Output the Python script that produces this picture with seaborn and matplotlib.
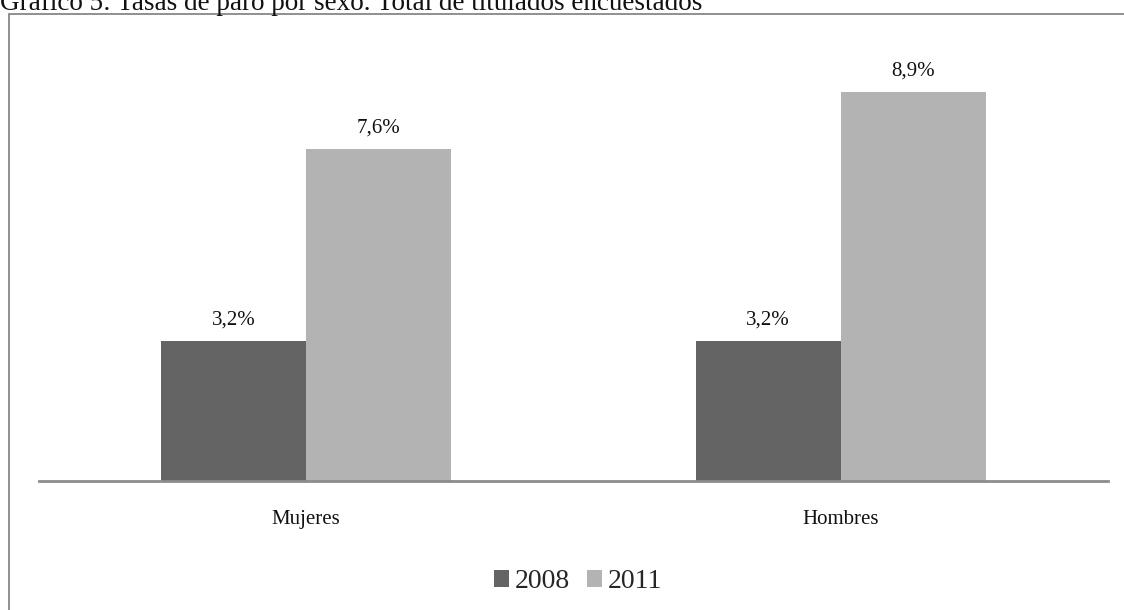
import matplotlib
matplotlib.use("Agg")
import matplotlib.pyplot as plt
from matplotlib.patches import Rectangle
import pandas as pd
import seaborn as sns

# Unemployment rates by sex, surveys of 2008 and 2011
categories = ["Mujeres", "Hombres"]
years = ["2008", "2011"]
rates_2008 = [3.2, 3.2]
rates_2011 = [7.6, 8.9]
title = "Gráfico 5: Tasas de paro por sexo. Total de titulados encuestados"

df = pd.DataFrame({
    "sexo": categories * 2,
    "año": [years[0]] * len(categories) + [years[1]] * len(categories),
    "tasa": rates_2008 + rates_2011,
})

sns.set_style("white")
plt.rcParams["font.family"] = ["Liberation Serif", "DejaVu Serif"]

W, H = 1124, 610
fig = plt.figure(figsize=(W / 100, H / 100), dpi=100)
ax = fig.add_axes([39 / W, (H - 481) / H, (1108 - 39) / W, (481 - 15) / H])

dark, light = "#646464", "#b3b3b3"
sns.barplot(data=df, x="sexo", y="tasa", hue="año", order=categories,
            hue_order=years, palette=[dark, light], saturation=1,
            width=0.543, gap=0, ax=ax, linewidth=0)

ax.set_xlim(-0.5, 1.5)
ax.set_ylim(0, 466 / 43.7)

for container in ax.containers:
    ax.bar_label(container,
                 labels=[f"{v:.1f}%".replace(".", ",") for v in container.datavalues],
                 padding=8.5, fontsize=15, color="#111111")

for side in ("left", "right", "top"):
    ax.spines[side].set_visible(False)
ax.spines["bottom"].set_color("#8c8c8c")
ax.spines["bottom"].set_linewidth(2)
ax.set_yticks([])
ax.set_xlabel("")
ax.set_ylabel("")
ax.tick_params(axis="x", length=0, pad=21, labelsize=15, labelcolor="#111111")

sns.move_legend(ax, "center", bbox_to_anchor=(578 / W, 1 - 582 / H),
                bbox_transform=fig.transFigure, ncol=2, frameon=False,
                title=None, fontsize=20, handlelength=0.55, handleheight=0.55,
                handletextpad=0.2, columnspacing=0.6)

# Outer chart frame (extends beyond the right and bottom edges)
fig.patches.append(Rectangle((8.5 / W, -0.05), 1.2, 1.05 - 14.5 / H,
                             transform=fig.transFigure, fill=False,
                             edgecolor="#878787", linewidth=1.3, zorder=0))

fig.text(0, 1 - 9.5 / H, title, ha="left", va="baseline",
         fontsize=19.5, color="#111111")

fig.savefig("out.png", dpi=100)
